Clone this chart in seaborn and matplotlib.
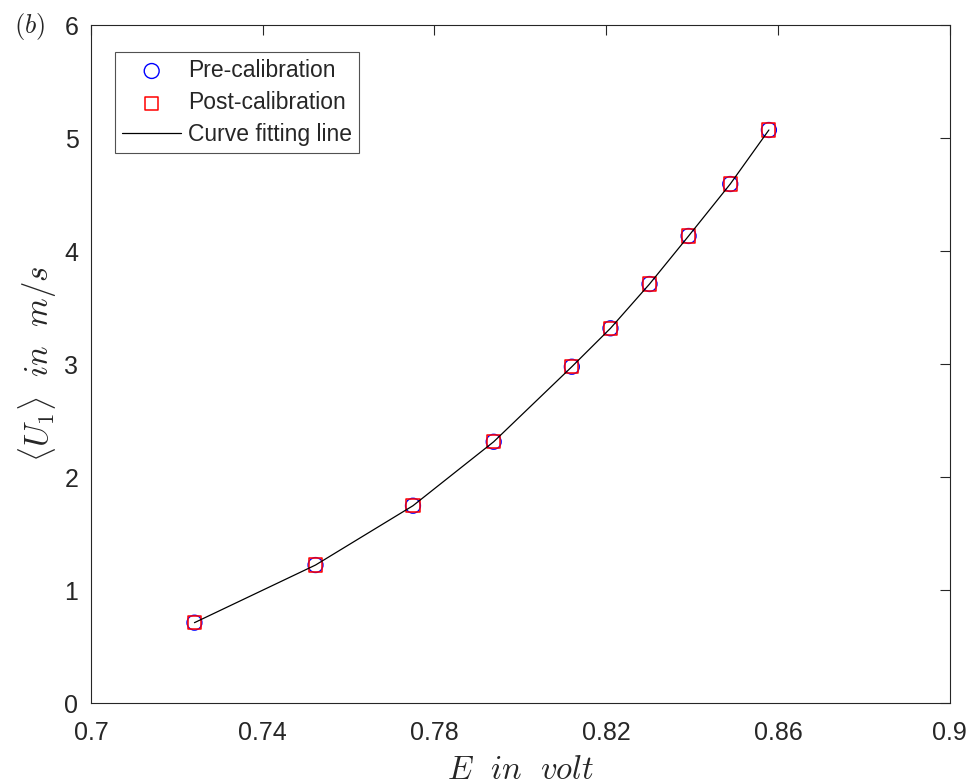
import numpy as np
import matplotlib
matplotlib.use("Agg")
import matplotlib.pyplot as plt
import seaborn as sns
import pandas as pd

# calibration points (voltage E, mean velocity U1)
E_volt = [0.7241, 0.7523, 0.7750, 0.7938, 0.8120, 0.8210, 0.8301, 0.8392, 0.8489, 0.8579]
U_pre = [0.711, 1.221, 1.746, 2.312, 2.976, 3.316, 3.708, 4.133, 4.593, 5.071]
U_post = [0.711, 1.221, 1.746, 2.312, 2.976, 3.316, 3.708, 4.133, 4.593, 5.071]

xticks = [0.7, 0.74, 0.78, 0.82, 0.86, 0.9]
xtick_labels = ["0.7", "0.74", "0.78", "0.82", "0.86", "0.9"]
yticks = [0, 1, 2, 3, 4, 5, 6]

sns.set_style("white")
plt.rcParams['font.family'] = ['Liberation Sans', 'DejaVu Sans']
plt.rcParams['mathtext.fontset'] = 'cm'

df = pd.DataFrame({'E': E_volt, 'pre': U_pre, 'post': U_post})

fig = plt.figure(figsize=(9.71, 7.84), dpi=100)
ax = fig.add_axes([0.0937, 0.1033, 0.8843, 0.8648])

sns.scatterplot(data=df, x='E', y='pre', ax=ax, marker='o', s=115,
                facecolor='none', edgecolor='blue', linewidth=1.0,
                label='Pre-calibration', zorder=3)
sns.scatterplot(data=df, x='E', y='post', ax=ax, marker='s', s=90,
                facecolor='none', edgecolor='red', linewidth=1.1,
                label='Post-calibration', zorder=4)
sns.lineplot(data=df, x='E', y='pre', ax=ax, color='black', linewidth=0.9,
             label='Curve fitting line', zorder=5)

ax.set_xlim(0.7, 0.9)
ax.set_ylim(0, 6)
ax.set_xticks(xticks)
ax.set_xticklabels(xtick_labels)
ax.set_yticks(yticks)
ax.tick_params(direction='in', length=7, width=0.8, top=True, right=True,
               labelsize=18, colors='#262626')
ax.tick_params(axis='x', pad=13)
ax.tick_params(axis='y', pad=9)
for sp in ax.spines.values():
    sp.set_color('#262626')
    sp.set_linewidth(0.8)

ax.set_xlabel(r'$E\ \ in\ \ volt$', fontsize=23.5, labelpad=7)
ax.set_ylabel(r'$\langle U_1\rangle\ \ in\ \ m/s$', fontsize=23.5, labelpad=4)
fig.text(0.030, 0.9656, r'$(b)$', fontsize=19, ha='center', va='center')

leg = ax.legend(loc='upper left', bbox_to_anchor=(0.028, 0.96), borderaxespad=0,
                fontsize=16.5, frameon=True, fancybox=False, edgecolor='#262626',
                handlelength=2.6, handletextpad=0.3, labelspacing=0.4,
                borderpad=0.3)
leg.get_frame().set_linewidth(0.8)

fig.savefig('out.png', dpi=100)
